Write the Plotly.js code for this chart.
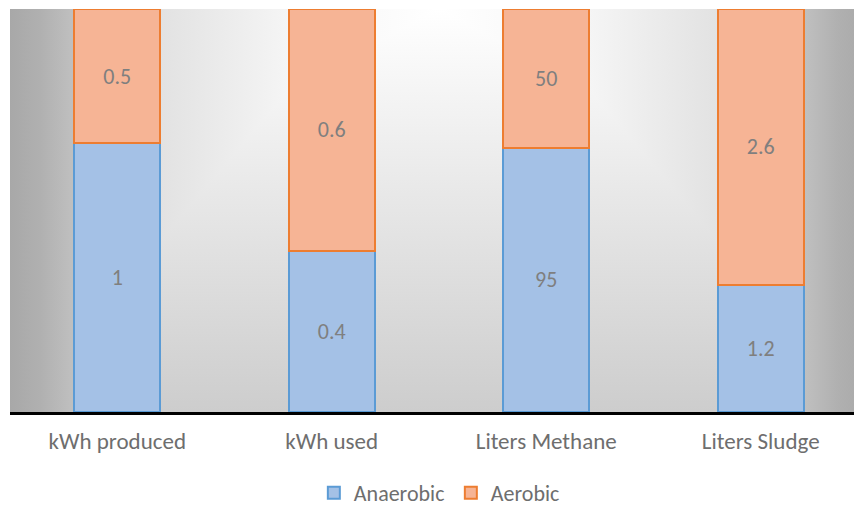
<!DOCTYPE html>
<html>
<head>
<meta charset="utf-8">
<script src="https://cdn.plot.ly/plotly-3.0.1.min.js"></script>
<style>
  html, body { margin: 0; padding: 0; background: #ffffff; }
  #wrap { position: relative; width: 854px; height: 506px; }
  /* shading behind the plotting area: light at the top centre, grey towards the sides and bottom */
  #shade {
    position: absolute; left: 10px; top: 9px; width: 844px; height: 403px;
    background:
      linear-gradient(to bottom, #ffffff 0%, #cdcdcd 100%),
      linear-gradient(to right,
        #a8a8a8 0px, #b0b0b0 30px, #c0c0c0 64px, #e2e2e2 149px, #f5f5f5 279px, #ffffff 429px,
        #f5f5f5 579px, #e2e2e2 709px, #c0c0c0 794px, #b0b0b0 828px, #acacac 844px);
    background-blend-mode: darken;
  }
  #chart { position: absolute; left: 0; top: 0; width: 854px; height: 506px; }
</style>
</head>
<body>
<div id="wrap">
  <div id="shade"></div>
  <div id="chart"></div>
</div>
<script>
// categories and the two series (drawn as 100% stacked columns)
const categories = ['kWh produced', 'kWh used', 'Liters Methane', 'Liters Sludge'];
const anaerobic = [1, 0.4, 95, 1.2];
const aerobic = [0.5, 0.6, 50, 2.6];

const FONT = 'Carlito, Lato, "Liberation Sans", sans-serif';
const labelFont = { family: FONT, size: 22, color: '#7f7f7f' };

const traces = [
  {
    type: 'bar', name: 'Anaerobic', x: categories, y: anaerobic,
    text: anaerobic.map(String), textposition: 'inside', insidetextanchor: 'middle',
    textangle: 0, constraintext: 'none', textfont: labelFont, hoverinfo: 'skip',
    marker: { color: '#a4c1e6', line: { color: '#5b9bd5', width: 2 } }
  },
  {
    type: 'bar', name: 'Aerobic', x: categories, y: aerobic,
    text: aerobic.map(String), textposition: 'inside', insidetextanchor: 'middle',
    textangle: 0, constraintext: 'none', textfont: labelFont, hoverinfo: 'skip',
    marker: { color: '#f6b495', line: { color: '#ed7d31', width: 2 } }
  }
];

const layout = {
  width: 854, height: 506,
  margin: { l: 10, r: 0, t: 9, b: 94, autoexpand: false },
  paper_bgcolor: 'rgba(0,0,0,0)',
  plot_bgcolor: 'rgba(0,0,0,0)',
  barmode: 'stack', barnorm: 'percent', bargap: 0.6,
  showlegend: true,
  legend: {
    orientation: 'h', xref: 'paper', x: 0.36, xanchor: 'left',
    yref: 'container', y: 0.026, yanchor: 'middle',
    entrywidth: 92, entrywidthmode: 'pixels',
    font: { family: FONT, size: 22, color: '#6e6e6e' },
    bgcolor: 'rgba(0,0,0,0)', traceorder: 'normal'
  },
  xaxis: {
    range: [-0.5, 3.435], showgrid: false, zeroline: false,
    showline: true, linecolor: '#000000', linewidth: 3,
    ticks: '', ticklabelstandoff: 6,
    tickfont: { family: FONT, size: 23, color: '#6e6e6e' },
    fixedrange: true
  },
  yaxis: {
    range: [0, 100], visible: false, showgrid: false, zeroline: false, fixedrange: true
  }
};

Plotly.newPlot('chart', traces, layout, { displayModeBar: false, staticPlot: true });
</script>
</body>
</html>
